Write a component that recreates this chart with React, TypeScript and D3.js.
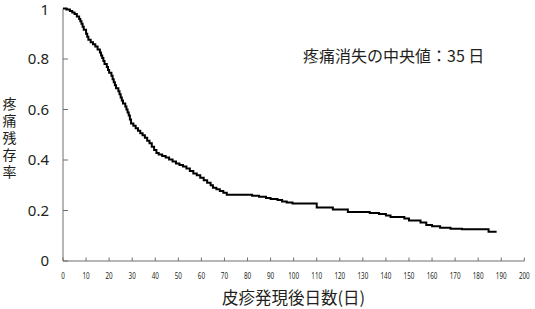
import React from "react";
import * as d3 from "d3";

// Kaplan–Meier step points (day, remaining-pain proportion)
const days = [
  0, 1.5, 3, 4, 5, 6, 7, 7.5, 8, 8.5, 9, 10, 10.5, 11, 12, 13, 14, 15, 16, 16.5,
  17, 17.5, 18, 19, 19.5, 20, 21, 21.5, 22, 22.5, 23, 24, 24.5, 25, 25.5, 26, 27,
  27.5, 28, 28.5, 29, 29.5, 30.5, 31.5, 32.5, 33.5, 34.5, 35.5, 36.5, 37.5, 38.5,
  39.5, 40.5, 41.5, 43, 44.5, 46, 47.5, 49, 50.5, 52, 53.5, 55, 56.5, 58, 59.5, 61,
  62.5, 64, 65, 66.5, 68, 69.5, 71, 82, 85, 88, 90, 93, 95, 97, 99.5, 110, 117,
  123.5, 133, 137, 140, 142, 148, 150, 155, 157.5, 160, 163.5, 168, 173, 184.5, 188,
];
const survival = [
  1.0, 0.996, 0.99, 0.984, 0.978, 0.968, 0.958, 0.95, 0.94, 0.928, 0.916, 0.9, 0.888,
  0.876, 0.866, 0.858, 0.85, 0.838, 0.826, 0.814, 0.804, 0.792, 0.78, 0.768, 0.756,
  0.746, 0.734, 0.72, 0.708, 0.696, 0.684, 0.672, 0.66, 0.648, 0.636, 0.624, 0.612,
  0.6, 0.588, 0.576, 0.56, 0.545, 0.536, 0.526, 0.516, 0.506, 0.498, 0.488, 0.476,
  0.466, 0.452, 0.44, 0.428, 0.422, 0.416, 0.41, 0.402, 0.394, 0.386, 0.38, 0.374,
  0.366, 0.356, 0.347, 0.34, 0.33, 0.32, 0.31, 0.3, 0.29, 0.284, 0.277, 0.27, 0.262,
  0.258, 0.254, 0.25, 0.246, 0.242, 0.236, 0.232, 0.228, 0.212, 0.204, 0.194, 0.19,
  0.186, 0.18, 0.174, 0.168, 0.16, 0.152, 0.143, 0.138, 0.132, 0.128, 0.126, 0.116,
  0.116,
];
const xTicks = [0, 10, 20, 30, 40, 50, 60, 70, 80, 90, 100, 110, 120, 130, 140, 150, 160, 170, 180, 190, 200];
const yTicks = [0, 0.2, 0.4, 0.6, 0.8, 1];
const yTickLabels = ["0", "0.2", "0.4", "0.6", "0.8", "1"];
const yTitle = "疼痛残存率";
const xTitle = "皮疹発現後日数(日)";
const note = "疼痛消失の中央値：35 日";

const W = 535;
const H = 309;
const X0 = 63;
const X1 = 524.3;
const Y0 = 261;
const Y1 = 8.5;

export default function App() {
  const x = d3.scaleLinear().domain([0, 200]).range([X0, X1]);
  const y = d3.scaleLinear().domain([0, 1]).range([Y0, Y1]);
  const pts: [number, number][] = days.map((d, i) => [d, survival[i]]);
  const line = d3
    .line<[number, number]>()
    .x((d) => x(d[0]))
    .y((d) => y(d[1]))
    .curve(d3.curveStepAfter);
  const axisColor = "#6e6e6e";
  const font = "'Noto Sans CJK JP', 'Noto Sans', sans-serif";
  return (
    <svg
      width={W}
      height={H}
      style={{ position: "absolute", left: 0, top: 0, background: "#fff" }}
      fontFamily={font}
    >
      {/* axes */}
      <line x1={X0} x2={X0} y1={Y1} y2={Y0} stroke={axisColor} strokeWidth={1} />
      <line x1={X0} x2={X1} y1={Y0} y2={Y0} stroke={axisColor} strokeWidth={1} />
      {yTicks.map((t) => (
        <line key={"yt" + t} x1={X0} x2={X0 + 5} y1={y(t)} y2={y(t)} stroke={axisColor} />
      ))}
      {xTicks.map((t) => (
        <line key={"xt" + t} x1={x(t)} x2={x(t)} y1={Y0} y2={Y0 - 3.5} stroke={axisColor} />
      ))}
      {yTicks.map((t, i) => (
        <text
          key={"yl" + t}
          x={49}
          y={Math.max(y(t), 9.5)}
          dy="0.36em"
          textAnchor="end"
          fontSize={15}
          fill="#231f20"
          fontFamily="'Noto Sans', sans-serif"
        >
          {yTickLabels[i]}
        </text>
      ))}
      {xTicks.map((t) => {
        const s = String(t);
        return (
          <text
            key={"xl" + t}
            x={x(t)}
            y={278.5}
            textAnchor="middle"
            fontSize={9.5}
            fill="#231f20"
            fontFamily="'Noto Sans', sans-serif"
            textLength={s.length * 3.6}
            lengthAdjust="spacingAndGlyphs"
          >
            {s}
          </text>
        );
      })}
      <text
        x={9.5}
        y={96.5}
        fontSize={14}
        fill="#231f20"
        letterSpacing={3}
        style={{ writingMode: "vertical-rl" }}
      >
        {yTitle}
      </text>
      <text x={222} y={304} fontSize={16.5} fill="#231f20">
        {xTitle}
      </text>
      <text x={303} y={62} fontSize={16} fill="#231f20">
        {note}
      </text>
      {/* survival curve */}
      <path d={line(pts) || ""} fill="none" stroke="#000" strokeWidth={2} />
    </svg>
  );
}
